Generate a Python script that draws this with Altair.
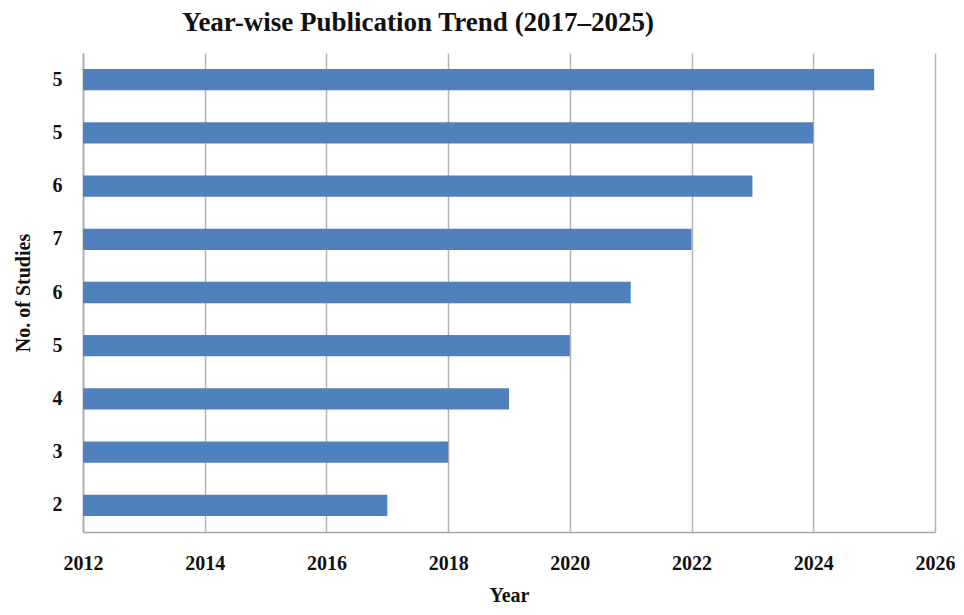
import altair as alt
import pandas as pd

years = [2025, 2024, 2023, 2022, 2021, 2020, 2019, 2018, 2017]
counts = [5, 5, 6, 7, 6, 5, 4, 3, 2]
x_ticks = [2012, 2014, 2016, 2018, 2020, 2022, 2024, 2026]

df = pd.DataFrame({
    "Year": years,
    "Count": counts,
    "cat": [f"{y}|{c}" for y, c in zip(years, counts)],
    "start": [2012] * len(years),
})

font = "Liberation Serif"

chart = alt.Chart(df).mark_bar(color="#4f81bd", opacity=1).encode(
    x=alt.X("start:Q",
            scale=alt.Scale(domain=[2012, 2026], nice=False, zero=False),
            axis=alt.Axis(values=x_ticks, format="d", title="Year",
                          grid=True, gridColor="#b4b4b4", gridWidth=1.5,
                          domainColor="#a8a8a8", domainWidth=1.5,
                          ticks=False, labelPadding=21,
                          labelFont=font, labelFontSize=20, labelFontWeight="bold",
                          labelColor="#111111", labelFlush=False,
                          titleFont=font, titleFontSize=20, titleFontWeight="bold",
                          titleColor="#111111", titlePadding=12)),
    x2="Year:Q",
    y=alt.Y("cat:N", sort=None,
            scale=alt.Scale(paddingInner=0.6, paddingOuter=0.3),
            axis=alt.Axis(title="No. of Studies", labelExpr="split(datum.value, '|')[1]",
                          ticks=False, grid=False,
                          domainColor="#a8a8a8", domainWidth=1.5,
                          labelPadding=21,
                          labelFont=font, labelFontSize=20, labelFontWeight="bold",
                          labelColor="#111111",
                          titleFont=font, titleFontSize=20, titleFontWeight="bold",
                          titleColor="#111111", titlePadding=19)),
).properties(
    width=852,
    height=479,
    autosize=alt.AutoSizeParams(type="none"),
    padding={"left": 75, "top": 45, "right": 20, "bottom": 75},
    title=alt.TitleParams("Year-wise Publication Trend (2017\u20132025)",
                          font=font, fontSize=27, fontWeight="bold", color="#111111",
                          anchor="middle", dx=-91, offset=16),
).configure_view(stroke=None)

chart.save("out.html", embed_options={"renderer": "svg", "actions": False})
